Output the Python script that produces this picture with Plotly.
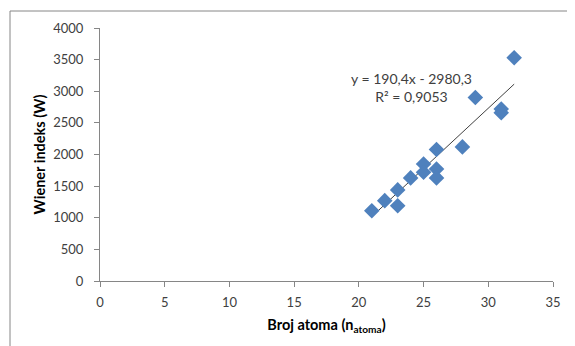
import numpy as np
import plotly.graph_objects as go

n_atoma = [21, 22, 23, 23, 24, 25, 25, 26, 26, 26, 28, 29, 31, 31, 32]
wiener = [1110, 1270, 1440, 1190, 1630, 1850, 1720, 2080, 1770, 1630, 2120, 2900, 2720, 2660, 3530]
slope = 190.4
intercept = -2980.3
r2_text = "0,9053"
x_ticks = [0, 5, 10, 15, 20, 25, 30, 35]
y_ticks = [0, 500, 1000, 1500, 2000, 2500, 3000, 3500, 4000]

# page body has an 8px default margin, so the figure is drawn 8px smaller
OFF = 8
W, H = 575 - OFF, 346 - OFF
L, R, T, B = 100 - OFF, 22, 28 - OFF, 65
pw, ph = W - L - R, H - T - B

trend_x = np.array([min(n_atoma), max(n_atoma)], dtype=float)
trend_y = slope * trend_x + intercept

fig = go.Figure()
fig.add_trace(go.Scatter(x=trend_x, y=trend_y, mode="lines",
                         line=dict(color="#404040", width=1), hoverinfo="skip"))
fig.add_trace(go.Scatter(x=n_atoma, y=wiener, mode="markers",
                         marker=dict(symbol="diamond", size=12, color="#4F81BD",
                                     line=dict(width=0))))

FONT = "Lato, Open Sans, sans-serif"
axis_font = dict(family=FONT, size=13, color="#404040")
title_font = dict(family=FONT, size=14.5, color="black")
fig.update_layout(
    width=W, height=H, showlegend=False,
    margin=dict(l=L, r=R, t=T, b=B, autoexpand=False),
    paper_bgcolor="white", plot_bgcolor="white",
    font=dict(family=FONT),
    xaxis=dict(range=[0, 35], tickvals=x_ticks, showgrid=False, zeroline=False,
               showline=True, linecolor="#868686", linewidth=1,
               ticks="outside", ticklen=5, tickcolor="#868686",
               tickfont=axis_font, automargin=False, ticklabelstandoff=4,
               title=dict(text="<b>Broj atoma (n<sub>atoma</sub>)</b>",
                          font=title_font, standoff=11)),
    yaxis=dict(range=[0, 4000], tickvals=y_ticks, showgrid=False, zeroline=False,
               showline=True, linecolor="#868686", linewidth=1,
               ticks="outside", ticklen=5, tickcolor="#868686",
               tickfont=axis_font, automargin=False, ticklabelstandoff=8,
               title=dict(text="<b>Wiener indeks (W)</b>",
                          font=title_font, standoff=4)),
)

eq = f"y = {str(slope).replace('.', ',')}x - {str(-intercept).replace('.', ',')}<br>R² = {r2_text}"
fig.add_annotation(xref="x", yref="y", x=(411 - 100) / pw * 35, y=(281 - 87) / ph * 4000,
                   text=eq, showarrow=False, align="center",
                   font=dict(family=FONT, size=14, color="#404040"))

# chart frame (top and left edges visible)
fx0 = (10 - 100) / pw
fy_top = 1 + (28 - 11) / ph
fy_bot = -(B + 5) / ph
fx1 = 1 + (R + 5) / pw
fig.add_shape(type="path", xref="paper", yref="paper",
              path=f"M {fx0} {fy_bot} L {fx0} {fy_top} L {fx1} {fy_top}",
              line=dict(color="#868686", width=1))

fig.write_html("out.html")
